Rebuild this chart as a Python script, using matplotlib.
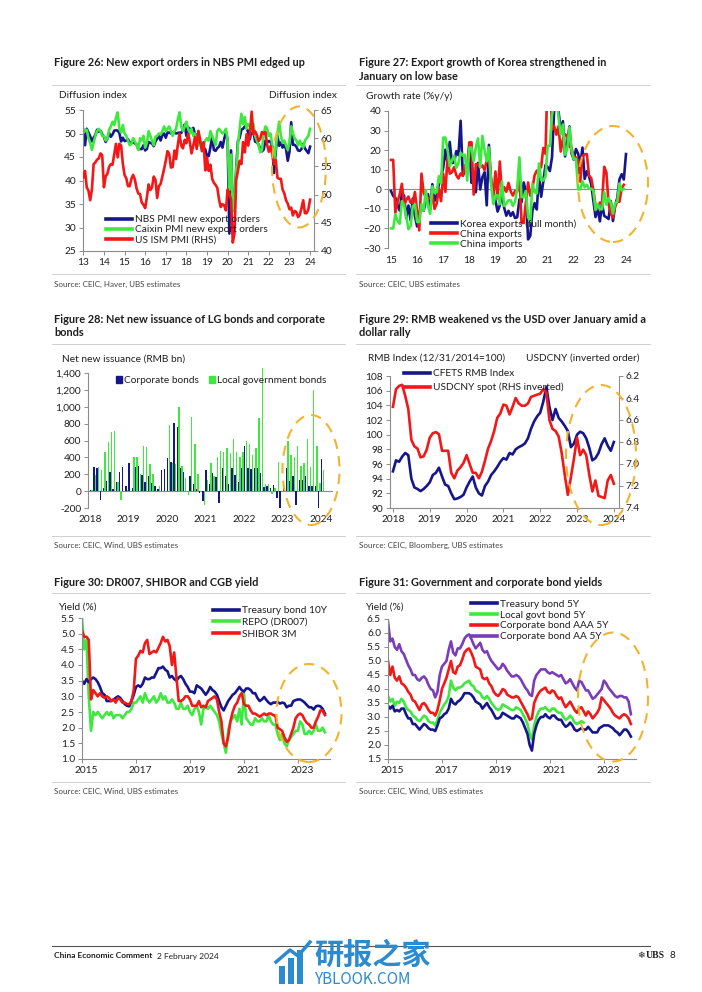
import matplotlib
matplotlib.use("Agg")
import matplotlib.pyplot as plt
import matplotlib.transforms as mtransforms
import numpy as np
from matplotlib.patches import Ellipse, Patch, Rectangle
from matplotlib.lines import Line2D

plt.rcParams['font.family'] = ['Lato', 'Noto Sans CJK SC', 'DejaVu Sans']

# ---------------- DATA ----------------
# Figure 26 (monthly, Jan 2013 - Jan 2024)
nbs_export = [50.0, 47.5, 51.0, 50.2, 49.4, 48.3, 49.1, 49.7, 50.8, 50.4, 50.6, 49.8,
              49.3, 48.2, 48.9, 50.1, 49.3, 49.8, 50.6, 50.7, 50.6, 50.1, 48.3, 49.1,
              48.4, 48.5, 48.8, 48.1, 48.0, 48.2, 47.9, 47.7, 46.7, 46.7, 46.7, 47.5,
              46.4, 46.7, 48.2, 48.0, 47.9, 47.3, 48.3, 48.9, 49.5, 48.5, 49.7, 50.0,
              49.1, 50.2, 50.2, 50.0, 50.2, 50.3, 50.0, 50.1, 50.2, 50.1, 50.8, 51.9,
              49.5, 51.3, 51.0, 50.7, 51.2, 49.8, 49.8, 49.4, 48.0, 46.9, 47.0, 46.6,
              45.2, 45.2, 47.1, 49.2, 46.5, 46.3, 46.9, 47.2, 48.2, 47.0, 48.8, 50.3,
              48.7, 28.7, 46.4, 33.5, 35.3, 42.6, 48.4, 49.1, 50.8, 51.0, 51.5, 51.3,
              50.2, 48.8, 51.2, 50.4, 48.3, 48.1, 47.7, 46.7, 46.2, 46.6, 48.5, 48.1,
              48.4, 48.2, 47.2, 41.6, 46.2, 49.5, 47.4, 48.1, 47.0, 47.6, 46.7, 44.2,
              46.1, 52.4, 47.6, 47.6, 47.2, 46.4, 46.3, 46.7, 47.8, 46.8, 46.3, 45.8,
              47.2]
caixin_export = [51.0, 50.5, 50.8, 49.0, 48.0, 46.5, 48.0, 49.5, 50.5, 51.0, 50.5, 49.5,
                 49.5, 48.5, 48.8, 50.8, 51.5, 52.5, 51.8, 53.3, 54.5, 51.0, 50.2, 51.8,
                 50.0, 49.5, 48.5, 47.5, 47.8, 49.0, 48.3, 47.5, 46.5, 49.0, 48.5, 49.5,
                 47.0, 48.0, 50.5, 49.5, 48.5, 47.5, 49.3, 49.5, 50.0, 49.8, 50.5, 51.5,
                 50.5, 51.0, 51.5, 50.5, 49.5, 50.5, 51.0, 53.0, 54.5, 51.5, 50.5, 51.5,
                 52.5, 51.0, 50.0, 51.0, 49.5, 50.0, 48.5, 47.5, 47.5, 48.0, 47.5, 48.5,
                 49.0, 48.5, 50.5, 49.5, 48.5, 47.5, 50.5, 51.0, 50.5, 50.0, 50.3, 51.0,
                 48.5, 38.0, 45.5, 33.5, 35.5, 42.0, 47.5, 51.0, 54.2, 52.0, 53.5, 51.0,
                 52.0, 51.5, 50.5, 52.0, 49.5, 48.5, 47.5, 46.0, 46.5, 50.0, 51.5, 51.0,
                 49.5, 50.0, 47.5, 44.0, 47.0, 50.0, 52.5, 49.5, 48.0, 48.5, 47.5, 46.5,
                 48.0, 51.5, 50.0, 49.0, 48.5, 47.5, 48.5, 47.5, 47.0, 48.5, 49.0, 49.5,
                 51.0]
us_ism = [53.1, 54.2, 51.3, 50.7, 49.0, 50.9, 55.4, 55.7, 56.2, 56.4, 57.3, 57.0,
          51.3, 53.2, 53.7, 54.9, 55.4, 55.3, 57.1, 59.0, 56.6, 59.0, 58.7, 55.5,
          53.5, 52.9, 51.5, 51.5, 52.8, 53.5, 52.7, 51.1, 50.2, 50.1, 48.6, 48.2,
          47.6, 49.5, 51.8, 50.8, 51.3, 53.2, 52.6, 49.4, 51.5, 51.9, 53.2, 54.5,
          56.0, 57.7, 57.2, 54.8, 54.9, 57.8, 56.3, 58.8, 60.8, 58.7, 58.2, 59.7,
          59.1, 60.8, 59.3, 57.3, 58.7, 60.2, 58.1, 61.3, 59.8, 57.7, 59.3, 54.3,
          56.6, 54.2, 55.3, 52.8, 52.1, 51.7, 51.2, 49.1, 47.8, 48.3, 48.1, 47.2,
          50.9, 50.1, 49.1, 41.5, 43.1, 52.6, 54.2, 56.0, 55.4, 59.3, 57.5, 60.7,
          58.7, 60.8, 64.7, 60.7, 61.2, 60.6, 59.5, 59.9, 61.1, 60.8, 61.1, 58.8,
          57.6, 58.6, 57.1, 55.4, 56.1, 53.0, 52.8, 52.8, 50.9, 50.2, 49.0, 48.4,
          47.4, 47.7, 46.3, 47.1, 46.9, 46.0, 46.4, 47.6, 49.0, 46.7, 46.7, 47.4,
          49.1]
yr26_labels = ['13', '14', '15', '16', '17', '18', '19', '20', '21', '22', '23', '24']

# Figure 27 (monthly y/y %, from Jan 2015)
korea_exports = [-0.9, -3.4, -4.3, -8.0, -10.9, -1.8, -3.3, -14.7, -8.3, -15.8, -4.7, -13.8,
                 -19.0, -12.6, -8.1, -11.0, -5.9, -2.5, -10.2, 2.6, -5.9, -3.2, 2.5, 6.4,
                 11.2, 20.2, 13.1, 24.2, 13.4, 13.7, 19.5, 17.4, 35.0, 7.0, 9.6, 8.9,
                 22.2, 3.3, 6.1, -1.5, 13.5, -0.1, 6.2, 8.7, -8.2, 22.7, 3.6, -1.2,
                 -5.8, -11.4, -8.2, -2.0, -9.4, -13.5, -11.0, -13.6, -11.7, -14.7, -14.3, -5.2,
                 -6.6, 3.5, -1.4, -25.6, -23.8, -10.9, -7.1, -10.3, 7.3, -3.8, 4.0, 12.4,
                 11.4, 9.3, 16.4, 41.2, 45.6, 39.8, 29.6, 34.8, 16.8, 24.1, 32.1, 18.3,
                 15.2, 20.6, 18.2, 12.6, 21.3, 5.3, 9.2, 6.6, 2.7, -5.8, -14.2, -9.7,
                 -16.4, -7.5, -13.6, -14.3, -15.2, -6.0, -16.2, -8.3, -4.4, 5.1, 7.7, 5.0,
                 18.0]
china_exports = [15.0, 15.0, -12.0, -6.4, -2.5, 2.8, -8.3, -5.5, -3.7, -6.9, -6.8, -1.4,
                 -11.2, -21.0, 8.0, -1.8, -4.1, -4.8, -4.4, -2.8, -10.0, -7.3, 0.1, -6.1,
                 7.9, -1.3, 16.4, 8.0, 8.7, 11.3, 7.2, 5.5, 8.1, 6.9, 12.3, 10.9,
                 24.0, 24.0, -2.7, 12.9, 12.6, 11.2, 12.2, 9.8, 14.5, 15.6, 5.4, -4.4,
                 9.1, -4.6, 14.2, -2.7, 1.1, -1.3, 3.3, -1.0, -3.2, -0.9, -1.1, 7.6,
                 -17.2, -17.2, -6.6, 3.5, -3.3, 0.5, 7.2, 9.5, 9.9, 11.4, 21.1, 18.1,
                 60.6, 60.6, 30.6, 32.3, 27.9, 32.2, 19.3, 25.6, 28.1, 27.1, 22.0, 20.9,
                 16.3, 16.3, 14.7, 3.9, 16.9, 17.9, 18.0, 7.1, 5.7, -0.3, -8.7, -9.9,
                 -6.8, -6.8, 11.5, 8.5, -7.5, -12.4, -14.5, -8.8, -6.2, -6.4, 0.5, 2.3]
china_imports = [-20.0, -20.0, -12.7, -16.2, -17.6, -6.1, -8.1, -13.8, -20.4, -18.8, -8.7, -7.6,
                 -16.7, -16.7, -7.6, -10.9, -0.4, -8.4, -12.5, 1.5, -1.9, -1.4, 6.7, 3.1,
                 26.4, 26.4, 20.3, 11.9, 14.8, 17.2, 11.0, 13.3, 18.7, 17.2, 17.7, 4.5,
                 21.3, 21.3, 14.4, 21.5, 26.0, 11.3, 27.3, 20.0, 14.3, 21.4, 3.0, -7.6,
                 -3.1, -3.1, -7.6, 4.0, -8.5, -7.3, -5.6, -5.6, -8.5, -6.4, 0.3, 16.3,
                 -4.0, -4.0, -0.9, -14.2, -16.7, 2.7, -1.4, -2.1, 13.2, 4.7, 4.5, 6.5,
                 22.2, 22.2, 38.1, 43.1, 51.1, 36.7, 28.1, 33.1, 17.6, 20.6, 31.7, 19.5,
                 15.5, 15.5, -0.1, 0.0, 4.1, 1.0, 2.3, 0.3, 0.3, -0.7, -10.6, -7.5,
                 -10.2, -10.2, -1.4, -7.9, -4.5, -6.8, -12.4, -7.3, -6.2, 3.0, -0.6, 0.2]
yr27_labels = ['15', '16', '17', '18', '19', '20', '21', '22', '23', '24']

# Figure 28 (RMB bn, monthly from Jan 2018)
corp_bonds = [10, 290, 270, -100, 40, 120, 230, 20, 110, 230, 290, 60,
              330, 40, 290, 300, 190, 110, 180, 100, 60, 20, 250, 260,
              390, 350, 810, 760, 280, 230, 0, 180, 80, 30, -20, -120,
              250, 80, 210, 170, -140, 280, 180, 80, 280, 190, 110, 280,
              540, 270, 260, 280, 270, 210, 50, 60, 40, 70, -80, -210,
              70, 270, 120, 180, -170, 130, 130, 180, 60, 60, 60, -210,
              380]
lg_bonds = [10, 190, 290, 250, 460, 580, 700, 710, 110, -100, 0, 10,
            0, 400, 400, 200, 540, 520, 320, 200, 0, 60, 0, 0,
            780, 330, 320, 1000, 300, 150, -40, 880, 560, 200, 0, -170,
            130, 330, 180, 410, 470, 460, 510, 450, 620, 460, 400, 460,
            600, 560, 430, 510, 870, 1460, 80, 80, -30, 40, 350, 0,
            60, 590, 430, 400, 530, 300, 330, 620, 290, 1200, 530, 100,
            250]

# Figure 29 (monthly from Jan 2018)
cfets_index = [95.0, 96.5, 96.3, 97.0, 97.5, 97.2, 94.0, 92.8, 92.6, 92.3, 92.6, 93.0,
               93.5, 94.5, 94.8, 95.5, 94.3, 93.2, 93.0, 92.0, 91.2, 91.3, 91.5, 91.8,
               92.8, 93.6, 94.3, 92.8, 92.0, 91.7, 93.0, 93.6, 94.5, 95.0, 95.6, 96.3,
               96.8, 96.6, 97.5, 97.3, 98.0, 98.3, 98.5, 98.8, 99.5, 100.8, 101.8, 102.5,
               103.0, 104.5, 106.5, 103.8, 102.0, 103.5, 102.3, 101.8, 101.2, 100.5, 98.3, 98.8,
               100.0, 100.4, 100.2, 99.5, 98.2, 96.5, 96.8, 97.5, 98.7, 99.5, 98.5, 97.8,
               99.0]
usdcny_spot = [6.48, 6.32, 6.29, 6.28, 6.38, 6.50, 6.78, 6.84, 6.86, 6.94, 6.93, 6.87,
               6.76, 6.72, 6.71, 6.73, 6.88, 6.88, 6.88, 7.08, 7.13, 7.06, 7.03, 6.99,
               6.92, 7.00, 7.08, 7.08, 7.13, 7.07, 6.97, 6.86, 6.79, 6.70, 6.58, 6.54,
               6.46, 6.47, 6.55, 6.48, 6.40, 6.45, 6.47, 6.47, 6.45, 6.39, 6.38, 6.37,
               6.36, 6.32, 6.35, 6.60, 6.68, 6.70, 6.75, 6.90, 7.10, 7.28, 7.12, 6.95,
               6.76, 6.92, 6.87, 6.92, 7.10, 7.25, 7.15, 7.29, 7.30, 7.31, 7.15, 7.10,
               7.18]

# Figure 30 (monthly from Jan 2015)
cgb_10y = [3.50, 3.40, 3.55, 3.45, 3.55, 3.60, 3.55, 3.45, 3.30, 3.10, 3.05, 2.85,
           2.85, 2.85, 2.90, 2.95, 3.00, 2.95, 2.85, 2.75, 2.70, 2.68, 2.85, 3.05,
           3.30, 3.35, 3.30, 3.40, 3.60, 3.55, 3.55, 3.60, 3.60, 3.75, 3.90, 3.90,
           3.95, 3.85, 3.80, 3.60, 3.65, 3.55, 3.50, 3.60, 3.65, 3.55, 3.40, 3.30,
           3.15, 3.15, 3.10, 3.35, 3.30, 3.25, 3.15, 3.05, 3.15, 3.30, 3.20, 3.15,
           3.05, 2.85, 2.65, 2.55, 2.70, 2.85, 2.95, 3.05, 3.10, 3.20, 3.30, 3.20,
           3.15, 3.25, 3.25, 3.20, 3.10, 3.10, 2.95, 2.85, 2.90, 2.98, 2.88, 2.80,
           2.75, 2.80, 2.80, 2.82, 2.77, 2.80, 2.78, 2.65, 2.70, 2.70, 2.85, 2.88,
           2.90, 2.90, 2.86, 2.80, 2.72, 2.65, 2.65, 2.58, 2.68, 2.70, 2.68, 2.60,
           2.45]
repo_dr007 = [5.50, 4.50, 4.80, 3.00, 1.90, 2.50, 2.40, 2.50, 2.40, 2.30, 2.40, 2.50,
              2.40, 2.50, 2.30, 2.40, 2.40, 2.40, 2.30, 2.40, 2.50, 2.50, 2.60, 2.80,
              2.80, 2.90, 3.00, 2.80, 3.10, 2.90, 2.80, 2.90, 3.00, 2.80, 2.90, 3.10,
              2.90, 3.00, 2.80, 2.80, 2.90, 2.80, 2.60, 2.60, 2.80, 2.60, 2.60, 2.70,
              2.50, 2.40, 2.60, 2.70, 2.50, 2.10, 2.60, 2.70, 2.60, 2.70, 2.60, 2.50,
              2.40, 2.20, 1.80, 1.50, 1.20, 1.90, 2.20, 2.30, 2.40, 2.20, 2.60, 2.10,
              3.10, 2.30, 2.20, 2.10, 2.10, 2.30, 2.20, 2.20, 2.30, 2.20, 2.20, 2.40,
              2.20, 2.10, 2.10, 1.80, 1.60, 1.80, 1.50, 1.40, 1.60, 1.70, 1.80, 1.90,
              1.90, 2.20, 2.10, 1.80, 1.80, 1.90, 1.80, 1.90, 2.10, 1.90, 1.90, 2.00,
              1.85]
shibor_3m = [5.10, 4.90, 4.90, 4.80, 2.90, 3.20, 3.10, 3.00, 3.10, 3.00, 2.95, 3.00,
             2.95, 2.85, 2.90, 2.80, 2.95, 2.90, 2.80, 2.80, 2.75, 2.75, 2.85, 3.20,
             4.20, 4.30, 4.45, 4.40, 4.70, 4.80, 4.35, 4.40, 4.45, 4.40, 4.55, 4.70,
             4.90, 4.75, 4.80, 4.60, 4.00, 4.40, 3.60, 2.85, 2.85, 2.90, 3.00, 3.00,
             2.90, 2.70, 2.70, 2.70, 2.85, 2.65, 2.70, 2.65, 2.85, 2.90, 2.95, 3.00,
             2.90, 2.50, 2.20, 1.50, 1.40, 1.70, 2.20, 2.50, 2.70, 2.80, 3.00, 3.10,
             2.75, 2.70, 2.70, 2.55, 2.45, 2.45, 2.40, 2.35, 2.40, 2.45, 2.40, 2.45,
             2.45, 2.40, 2.38, 2.00, 1.95, 1.90, 1.70, 1.55, 1.60, 1.80, 2.00, 2.30,
             2.40, 2.45, 2.40, 2.25, 2.15, 2.10, 2.00, 2.00, 2.20, 2.35, 2.55, 2.55,
             2.40]

# Figure 31 (monthly from Jan 2015)
tb_5y = [3.40, 3.30, 3.40, 3.20, 3.25, 3.20, 3.30, 3.30, 3.10, 2.95, 2.95, 2.75,
         2.75, 2.65, 2.55, 2.65, 2.75, 2.70, 2.60, 2.55, 2.55, 2.50, 2.70, 2.95,
         3.00, 3.10, 3.15, 3.30, 3.65, 3.50, 3.45, 3.55, 3.60, 3.70, 3.85, 3.85,
         3.85, 3.80, 3.70, 3.55, 3.50, 3.45, 3.30, 3.40, 3.50, 3.35, 3.25, 3.10,
         2.95, 2.95, 3.00, 3.15, 3.10, 3.05, 3.00, 2.95, 2.95, 3.05, 3.00, 2.95,
         2.80, 2.60, 2.40, 2.00, 1.80, 2.40, 2.70, 2.90, 3.00, 3.00, 3.10, 3.00,
         2.95, 3.05, 3.05, 2.95, 2.90, 2.90, 2.75, 2.65, 2.70, 2.80, 2.70, 2.55,
         2.50, 2.55, 2.60, 2.55, 2.55, 2.65, 2.55, 2.45, 2.45, 2.45, 2.60, 2.65,
         2.70, 2.70, 2.70, 2.65, 2.60, 2.50, 2.45, 2.35, 2.45, 2.55, 2.55, 2.45,
         2.30]
lg_5y = [3.75, 3.55, 3.65, 3.40, 3.55, 3.50, 3.65, 3.55, 3.35, 3.25, 3.20, 3.05,
         3.00, 2.90, 2.85, 2.95, 3.05, 3.00, 2.85, 2.80, 2.80, 2.70, 2.90, 3.15,
         3.30, 3.45, 3.55, 3.75, 4.30, 4.05, 3.95, 4.05, 4.05, 4.10, 4.20, 4.25,
         4.30, 4.15, 4.10, 3.95, 3.90, 3.85, 3.70, 3.65, 3.75, 3.65, 3.50, 3.40,
         3.30, 3.25, 3.30, 3.45, 3.40, 3.35, 3.30, 3.25, 3.25, 3.35, 3.30, 3.25,
         3.10, 2.95, 2.75, 2.40, 2.20, 2.70, 3.00, 3.20, 3.30, 3.30, 3.35, 3.25,
         3.20, 3.30, 3.30, 3.20, 3.15, 3.15, 3.00, 2.90, 2.95, 3.05, 2.95, 2.80,
         2.75, 2.80, 2.85, 2.80]
aaa_5y = [5.00, 4.50, 4.80, 4.40, 4.30, 4.45, 4.20, 4.15, 4.05, 3.90, 3.80, 3.60,
          3.55, 3.40, 3.25, 3.45, 3.50, 3.40, 3.25, 3.15, 3.15, 3.05, 3.25, 3.60,
          4.00, 4.20, 4.40, 4.70, 5.00, 4.60, 4.55, 4.80, 4.85, 5.05, 5.30, 5.40,
          5.45, 5.30, 5.10, 4.80, 4.75, 4.70, 4.40, 4.35, 4.40, 4.20, 4.10, 3.90,
          3.80, 3.75, 3.85, 4.00, 3.95, 3.80, 3.75, 3.70, 3.70, 3.75, 3.70, 3.55,
          3.40, 3.25, 3.10, 2.90, 2.95, 3.50, 3.70, 3.85, 3.95, 4.00, 4.05, 3.90,
          3.85, 3.95, 3.90, 3.75, 3.65, 3.70, 3.50, 3.35, 3.45, 3.55, 3.40, 3.25,
          3.15, 3.30, 3.35, 3.20, 3.05, 3.20, 3.10, 2.95, 3.05, 3.15, 3.30, 3.70,
          3.60, 3.50, 3.40, 3.30, 3.15, 3.05, 3.00, 2.95, 3.05, 3.10, 3.05, 2.95,
          2.75]
aa_5y = [6.40, 5.70, 5.80, 5.50, 5.40, 5.60, 5.35, 5.25, 5.05, 4.85, 4.70, 4.50,
         4.50, 4.35, 4.30, 4.40, 4.45, 4.35, 4.15, 4.00, 3.95, 3.70, 3.90, 4.50,
         4.80, 4.90, 5.00, 5.40, 5.70, 5.30, 5.20, 5.45, 5.45, 5.60, 5.80, 5.90,
         5.95, 5.80, 5.60, 5.45, 5.55, 5.65, 5.40, 5.30, 5.35, 5.15, 5.00, 4.90,
         4.80, 4.70, 4.75, 4.90, 4.80, 4.65, 4.55, 4.45, 4.45, 4.50, 4.45, 4.35,
         4.20, 4.05, 3.95, 3.80, 3.75, 4.30, 4.50, 4.60, 4.70, 4.70, 4.70, 4.60,
         4.55, 4.60, 4.55, 4.50, 4.45, 4.50, 4.35, 4.20, 4.25, 4.35, 4.20, 4.05,
         3.95, 4.30, 4.25, 4.10, 3.95, 3.95, 3.80, 3.65, 3.70, 3.80, 3.90, 4.00,
         4.30, 4.20, 4.05, 3.95, 3.85, 3.75, 3.70, 3.75, 3.75, 3.70, 3.70, 3.55,
         3.10]

# ---------------- STYLE ----------------
NAVY = '#16168C'
GREEN = '#3FE83F'
RED = '#F21818'
PURPLE = '#7A3DB8'
GOLD = '#F2B42E'
SPINE = '#8C8C8C'
TXT = '#1E1E1E'
WM = '#2B8BD0'
LW = 1.9
TFS = 7.3

W, H = 702, 992
fig = plt.figure(figsize=(W / 100, H / 100), dpi=100)
fig.patch.set_facecolor('white')


def fx(x):
    return x / W


def fy(y):
    return 1 - y / H


def months(start_year, n):
    return start_year + np.arange(n) / 12.0


def ax_at(l, t, r, b):
    return fig.add_axes([fx(l), fy(b), (r - l) / W, (b - t) / H])


def hline(x0, x1, y, color='#D0D0D0', lw=0.7):
    fig.add_artist(Line2D([fx(x0), fx(x1)], [fy(y), fy(y)],
                          transform=fig.transFigure, color=color, lw=lw))


def txt(x, y, s, **kw):
    kw.setdefault('va', 'center')
    kw.setdefault('color', TXT)
    return fig.text(fx(x), fy(y), s, **kw)


def style(ax, left=True, right=False, bottom=True):
    for side in ['top', 'right', 'left', 'bottom']:
        ax.spines[side].set_visible(False)
        ax.spines[side].set_color(SPINE)
        ax.spines[side].set_linewidth(0.8)
    ax.spines['left'].set_visible(left)
    ax.spines['right'].set_visible(right)
    ax.spines['bottom'].set_visible(bottom)
    ax.tick_params(axis='both', labelsize=TFS, colors=SPINE, labelcolor=TXT,
                   length=3, width=0.7, pad=2)
    ax.set_facecolor('none')


def shift_xlabels(ax, px):
    off = mtransforms.ScaledTranslation(px / 100, 0, fig.dpi_scale_trans)
    for lab in ax.get_xticklabels():
        lab.set_transform(lab.get_transform() + off)


def ellipse(cx, cy, w, h):
    fig.add_artist(Ellipse((fx(cx), fy(cy)), w / W, h / H, transform=fig.transFigure,
                           fill=False, ec=GOLD, lw=1.5, ls=(0, (5, 3.5)), zorder=10))


def legend(handles, labels, x, y, **kw):
    opts = dict(loc='upper left', bbox_to_anchor=(fx(x), fy(y)), bbox_transform=fig.transFigure,
                frameon=False, fontsize=TFS, handlelength=2.6, handletextpad=0.25,
                labelspacing=0.1, borderpad=0, borderaxespad=0)
    opts.update(kw)
    lg = fig.legend(handles, labels, **opts)
    for t in lg.get_texts():
        t.set_color(TXT)
    return lg


def lh(c, lw=2.6):
    return Line2D([], [], color=c, lw=lw)


# ---------------- Figure 26 ----------------
t26 = months(2013, len(nbs_export))
ax = ax_at(83, 110, 314, 251)
style(ax, left=True, right=True, bottom=True)
ax.plot(t26, nbs_export, color=NAVY, lw=LW)
ax.plot(t26, caixin_export, color=GREEN, lw=LW)
ax.set_xlim(2012.985, 2024.19)
ax.set_ylim(25, 55)
ax.set_yticks(range(25, 56, 5))
ax.set_xticks(range(2013, 2013 + len(yr26_labels)))
ax.set_xticklabels(yr26_labels)
ax2 = ax.twinx()
style(ax2, left=False, right=False, bottom=False)
ax2.plot(t26, us_ism, color=RED, lw=LW)
ax2.set_ylim(40, 65)
ax2.set_yticks(range(40, 66, 5))
legend([lh(NAVY), lh(GREEN), lh(RED)],
       ['NBS PMI new export orders', 'Caixin PMI new export orders', 'US ISM PMI (RHS)'],
       106, 215)

# ---------------- Figure 27 ----------------
t27 = months(2015, len(korea_exports))
ax = ax_at(388, 111, 632, 248)
style(ax, left=True, bottom=False)
ax.axhline(0, color=SPINE, lw=0.8, zorder=0)
ax.plot(t27, korea_exports, color=NAVY, lw=LW)
ax.plot(t27[:len(china_exports)], china_exports, color=RED, lw=LW)
ax.plot(t27[:len(china_imports)], china_imports, color=GREEN, lw=LW)
ax.set_xlim(2014.885, 2024.23)
ax.set_ylim(-30, 40)
ax.set_yticks(range(-30, 41, 10))
ax.set_xticks(range(2015, 2015 + len(yr27_labels)))
ax.set_xticklabels(yr27_labels)
ax.tick_params(axis='x', length=0, pad=6)
legend([lh(NAVY), lh(RED), lh(GREEN)],
       ['Korea exports (full month)', 'China exports', 'China imports'], 431, 219)

# ---------------- Figure 28 ----------------
t28 = months(2018, len(corp_bonds))
ax = ax_at(88, 373, 333, 508)
style(ax, left=True, bottom=False)
ax.axhline(0, color=SPINE, lw=0.8, zorder=0)
ax.bar(t28, corp_bonds, width=0.036, align='edge', color=NAVY, lw=0)
ax.bar(t28 + 0.04, lg_bonds, width=0.036, align='edge', color=GREEN, lw=0, clip_on=False)
ax.set_xlim(2017.95, 2024.31)
ax.set_ylim(-200, 1400)
ax.set_yticks(range(-200, 1401, 200))
ax.set_yticklabels([f'{v:,}' for v in range(-200, 1401, 200)])
ax.set_xticks(range(2018, 2025))
ax.tick_params(axis='x', length=0, pad=5)
legend([Patch(color=NAVY), Patch(color=GREEN)], ['Corporate bonds', 'Local government bonds'],
       116, 376, ncol=2, handlelength=0.6, handleheight=0.6, handletextpad=0.2, columnspacing=1.0)

# ---------------- Figure 29 ----------------
t29 = months(2018, len(cfets_index))
ax = ax_at(390, 376, 619, 508)
style(ax, left=True, right=True, bottom=True)
ax.plot(t29, cfets_index, color=NAVY, lw=LW)
ax.set_xlim(2017.92, 2024.14)
ax.set_ylim(90, 108)
ax.set_yticks(range(90, 109, 2))
ax.set_xticks(range(2018, 2025))
ax2 = ax.twinx()
style(ax2, left=False, right=False, bottom=False)
ax2.plot(t29, usdcny_spot, color=RED, lw=LW)
ax2.set_ylim(7.4, 6.2)
rt = [6.2, 6.4, 6.6, 6.8, 7.0, 7.2, 7.4]
ax2.set_yticks(rt)
ax2.set_yticklabels([f'{v:.1f}' for v in rt])
legend([lh(NAVY), lh(RED)], ['CFETS RMB Index', 'USDCNY spot (RHS inverted)'], 404, 369,
       labelspacing=0.45)

# ---------------- Figure 30 ----------------
t30 = months(2015, len(cgb_10y))
ax = ax_at(82, 618, 330, 759)
style(ax, left=True, bottom=True)
ax.plot(t30, repo_dr007, color=GREEN, lw=LW)
ax.plot(t30, cgb_10y, color=NAVY, lw=LW)
ax.plot(t30, shibor_3m, color=RED, lw=LW)
ax.set_xlim(2015.0, 2024.19)
ax.set_ylim(1.0, 5.5)
yt = [1.0 + 0.5 * i for i in range(10)]
ax.set_yticks(yt)
ax.set_yticklabels([f'{v:.1f}' for v in yt])
ax.set_xticks(range(2015, 2024, 2))
shift_xlabels(ax, 4)
legend([lh(NAVY), lh(GREEN), lh(RED)], ['Treasury bond 10Y', 'REPO (DR007)', 'SHIBOR 3M'],
       213, 606, labelspacing=0.28)

# ---------------- Figure 31 ----------------
t31 = months(2015, len(tb_5y))
ax = ax_at(388, 619, 636, 759)
style(ax, left=True, bottom=True)
ax.plot(t31, aa_5y, color=PURPLE, lw=LW)
ax.plot(t31, aaa_5y, color=RED, lw=LW)
ax.plot(t31[:len(lg_5y)], lg_5y, color=GREEN, lw=LW)
ax.plot(t31, tb_5y, color=NAVY, lw=LW)
ax.set_xlim(2015.0, 2024.19)
ax.set_ylim(1.5, 6.5)
yt = [1.5 + 0.5 * i for i in range(11)]
ax.set_yticks(yt)
ax.set_yticklabels([f'{v:.1f}' for v in yt])
ax.set_xticks(range(2015, 2024, 2))
shift_xlabels(ax, 4)
legend([lh(NAVY), lh(GREEN), lh(RED), lh(PURPLE)],
       ['Treasury bond 5Y', 'Local govt bond 5Y', 'Corporate bond AAA 5Y', 'Corporate bond AA 5Y'],
       471, 599.5, labelspacing=0.18)

# ---------------- Titles, labels, sources ----------------
TT = dict(fontsize=7.9, fontweight='bold')
txt(54, 63, 'Figure 26: New export orders in NBS PMI edged up', **TT)
txt(359, 63, 'Figure 27: Export growth of Korea strengthened in', **TT)
txt(359, 76, 'January on low base', **TT)
txt(54, 320, 'Figure 28: Net new issuance of LG bonds and corporate', **TT)
txt(54, 333, 'bonds', **TT)
txt(359, 320, 'Figure 29: RMB weakened vs the USD over January amid a', **TT)
txt(359, 333, 'dollar rally', **TT)
txt(54, 582, 'Figure 30: DR007, SHIBOR and CGB yield', **TT)
txt(359, 582, 'Figure 31: Government and corporate bond yields', **TT)

for x0, x1 in [(52, 345), (356, 650)]:
    hline(x0, x1, 85)
    hline(x0, x1, 274)
    hline(x0, x1, 344)
    hline(x0, x1, 536)
    hline(x0, x1, 593)
    hline(x0, x1, 782)

LF = dict(fontsize=TFS)
txt(59, 96, 'Diffusion index', **LF)
txt(337, 96, 'Diffusion index', ha='right', **LF)
txt(366, 96, 'Growth rate (%y/y)', **LF)
txt(62, 359, 'Net new issuance (RMB bn)', **LF)
txt(368, 358, 'RMB Index (12/31/2014=100)', **LF)
txt(639, 358, 'USDCNY (inverted order)', ha='right', **LF)
txt(58, 607, 'Yield (%)', **LF)
txt(365, 607, 'Yield (%)', **LF)

SF = dict(fontsize=5.8, color='#444444')
txt(54, 284, 'Source: CEIC, Haver, UBS estimates', **SF)
txt(359, 284, 'Source: CEIC, UBS estimates', **SF)
txt(54, 545, 'Source: CEIC, Wind, UBS estimates', **SF)
txt(359, 545, 'Source: CEIC, Bloomberg, UBS estimates', **SF)
txt(54, 791, 'Source: CEIC, Wind, UBS estimates', **SF)
txt(359, 791, 'Source: CEIC, Wind, UBS estimates', **SF)

# ellipses
ellipse(299, 167, 54, 121)
ellipse(613, 184, 70, 116)
ellipse(311, 470, 57, 110)
ellipse(601, 455, 70, 140)
ellipse(309, 713, 65, 98)
ellipse(613, 697, 70, 129)

# footer
hline(52, 650, 946, color='#555555', lw=0.8)
txt(54, 956, 'China Economic Comment', fontsize=6.0, fontweight='bold')
txt(157, 956, '2 February 2024', fontsize=6.0)
txt(637, 956, '\u2744', fontsize=6.5, family='DejaVu Sans')
txt(646, 956, 'UBS', fontsize=7, fontweight='bold', family='Liberation Serif', ha='left')
txt(670, 956, '8', fontsize=7)
# watermark
for i, (bx, bh) in enumerate([(279, 18), (288, 26), (297, 34)]):
    fig.add_artist(Rectangle((fx(bx), fy(984)), 6 / W, bh / H, transform=fig.transFigure,
                             color=WM, lw=0))
fig.add_artist(Line2D([fx(276), fx(290), fx(298), fx(310)], [fy(962), fy(950), fy(956), fy(942)],
                      transform=fig.transFigure, color=WM, lw=2.5))
txt(314, 955, '研报之家', fontsize=21, fontweight='bold', color=WM,
    family=['Noto Sans CJK SC', 'DejaVu Sans'])
txt(315, 979, 'YBLOOK.COM', fontsize=11, color=WM, family=['Noto Sans CJK SC', 'DejaVu Sans'])

fig.savefig('out.png', dpi=100, facecolor='white')
